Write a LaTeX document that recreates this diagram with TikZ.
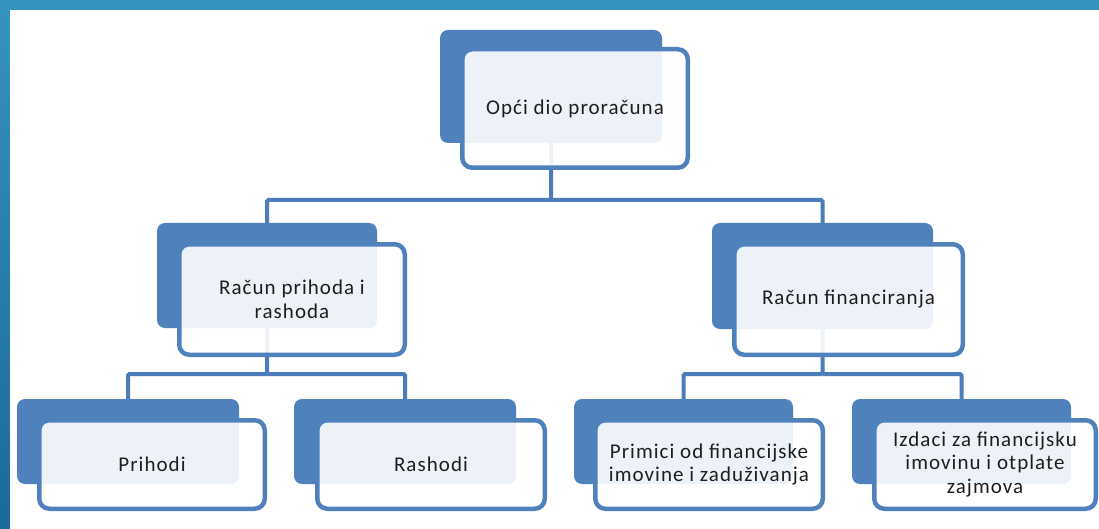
\documentclass[tikz,border=0pt]{standalone}
\usepackage{fontspec}
\setmainfont{Carlito}[LetterSpace=5]
\usetikzlibrary{positioning}
\definecolor{boxblue}{HTML}{4F81BD}
\definecolor{lineblue}{HTML}{4A7DB9}
\definecolor{textc}{HTML}{1E1E1E}
\definecolor{bgtop}{HTML}{3693BF}
\definecolor{bgbot}{HTML}{1B6A98}
\pgfdeclarelayer{backdrop}
\pgfdeclarelayer{connlayer}
\pgfsetlayers{backdrop,connlayer,main}
\tikzset{
  backbox/.style={fill=boxblue, draw=none, rounded corners=8pt, inner sep=0pt},
  frontbox/.style={fill=white, fill opacity=0.9, text opacity=1, draw=boxblue,
    line width=4.5pt, rounded corners=10pt, align=center, inner sep=0pt,
    text=textc, font=\fontsize{21}{23.5}\selectfont},
  conn/.style={draw=lineblue, line width=4pt, rounded corners=1.5pt},
}
\begin{document}
\begin{tikzpicture}[x=1pt,y=-1pt]
\useasboundingbox (0,0) rectangle (1099,529);
\begin{pgfonlayer}{backdrop}
  \shade[top color=bgtop, bottom color=bgbot] (0,0) rectangle (1099,529);
  \fill[white] (10,10) rectangle (1099,529);
\end{pgfonlayer}

% level 1
\node[backbox, minimum width=222pt, minimum height=113pt] (b1) at (551,86.5) {};
\node[frontbox, minimum width=225.5pt, minimum height=118.5pt] (f1) at (575,108.5) {Opći dio proračuna};

% level 2
\node[backbox, minimum width=220pt, minimum height=105pt] (b2l) at (267,275.5) {};
\node[frontbox, minimum width=225.5pt, minimum height=110.5pt] (f2l) at (292,299.5) {Račun prihoda i\\rashoda};
\node[backbox, minimum width=221pt, minimum height=106pt] (b2r) at (822.5,276) {};
\node[frontbox, minimum width=228.5pt, minimum height=110.5pt] (f2r) at (848.5,299.5) {Račun financiranja};

% level 3
\node[backbox, minimum width=222pt, minimum height=85pt] (b3a) at (128,441.5) {};
\node[frontbox, minimum width=225.5pt, minimum height=88.5pt] (f3a) at (152,464.5) {Prihodi};
\node[backbox, minimum width=222pt, minimum height=85pt] (b3b) at (405,441.5) {};
\node[frontbox, minimum width=227.5pt, minimum height=88.5pt] (f3b) at (431,464.5) {Rashodi};
\node[backbox, minimum width=219pt, minimum height=85pt] (b3c) at (683.5,441.5) {};
\node[frontbox, minimum width=227.5pt, minimum height=88.5pt] (f3c) at (709,464.5) {Primici od financijske\\imovine i zaduživanja};
\node[backbox, minimum width=219pt, minimum height=85pt] (b3d) at (961.5,441.5) {};
\node[frontbox, minimum width=221.5pt, minimum height=88.5pt] (f3d) at (985,464.5) {Izdaci za financijsku\\imovinu i otplate\\zajmova};

\begin{pgfonlayer}{connlayer}
  \coordinate (h1) at (551,200);
  \coordinate (h2l) at (267,374);
  \coordinate (h2r) at (822.5,374);
  \draw[conn] (b1.center) -- (b1.center |- h1) -| (b2l.north);
  \draw[conn] (b1.center |- h1) -| (b2r.north);
  \draw[conn] (b2l.center) -- (b2l.center |- h2l) -| (b3a.north);
  \draw[conn] (b2l.center |- h2l) -| (b3b.north);
  \draw[conn] (b2r.center) -- (b2r.center |- h2r) -| (b3c.north);
  \draw[conn] (b2r.center |- h2r) -| (b3d.north);
\end{pgfonlayer}
\end{tikzpicture}
\end{document}
